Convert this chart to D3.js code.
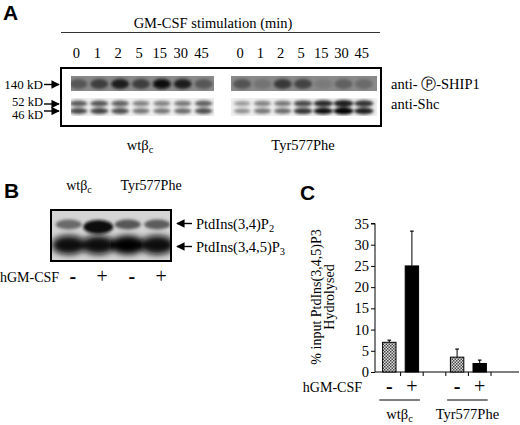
<!DOCTYPE html>
<html>
<head>
<meta charset="utf-8">
<script src="https://cdn.jsdelivr.net/npm/d3@7"></script>
<style>
body { margin: 0; background: #fff; }
svg { display: block; }
svg text { font-family: "Liberation Serif", "Times New Roman", serif; }
svg text.panel { font-family: "Liberation Sans", Arial, sans-serif; font-weight: bold; font-size: 21px; }
</style>
</head>
<body>
<div id="fig"></div>
<script>
// ---- data ----
const timePoints = ["0", "1", "2", "5", "15", "30", "45"];
const cellLines = [{ main: "wtβ", sub: "c" }, { main: "Tyr577Phe", sub: "" }];
// band darkness (0 = white, 1 = black)
const ship1Wt = [0.66, 0.76, 0.88, 0.76, 0.97, 0.88, 0.66];
const ship1Tyr = [0.68, 0.55, 0.78, 0.74, 0.52, 0.62, 0.58];
const shcWt = [0.72, 0.75, 0.7, 0.55, 0.55, 0.6, 0.7];
const shcTyr = [0.45, 0.55, 0.6, 0.8, 0.95, 1.0, 0.9];
const mwLabels = ["140 kD", "52 kD", "46 kD"];
const blotLabels = ["anti- \u24C5-SHIP1", "anti-Shc"];

const lipidLanes = ["wt-", "wt+", "tyr-", "tyr+"];
const gmcsf = ["-", "+", "-", "+"];
const pip2Band = [0.58, 0.94, 0.66, 0.64];
const pip3Band = [0.97, 0.95, 0.98, 0.96];
const lipidLabels = [{ main: "PtdIns(3,4)P", sub: "2" }, { main: "PtdIns(3,4,5)P", sub: "3" }];

const conditions = ["wt-", "wt+", "tyr-", "tyr+"];
const hydrolysed = [7.0, 25.0, 3.5, 2.0];
const hydrolysedErr = [0.5, 8.2, 1.9, 0.8];
const patterned = [true, false, true, false];
const yTicks = [0, 5, 10, 15, 20, 25, 30, 35];

// ---- svg ----
const width = 520, height = 425;
const svg = d3.select("#fig").append("svg")
    .attr("width", width)
    .attr("height", height);

const defs = svg.append("defs");
defs.append("filter").attr("id", "blur2").attr("x", "-50%").attr("y", "-50%").attr("width", "200%").attr("height", "200%")
    .append("feGaussianBlur").attr("stdDeviation", 1.8);
defs.append("filter").attr("id", "blur3").attr("x", "-50%").attr("y", "-50%").attr("width", "200%").attr("height", "200%")
    .append("feGaussianBlur").attr("stdDeviation", 3);
defs.append("marker")
    .attr("id", "ah")
    .attr("viewBox", "0 0 10 10")
    .attr("refX", 9).attr("refY", 5)
    .attr("markerWidth", 6).attr("markerHeight", 6)
    .attr("orient", "auto")
    .append("path").attr("d", "M0,0L10,5L0,10z").attr("fill", "#000");

// checkered fill for unstimulated bars
const pat = defs.append("pattern")
    .attr("id", "checker")
    .attr("width", 3).attr("height", 3)
    .attr("patternUnits", "userSpaceOnUse");
pat.append("rect").attr("width", 3).attr("height", 3).attr("fill", "#e0e0e0");
pat.append("rect").attr("width", 1.5).attr("height", 1.5).attr("fill", "#444");
pat.append("rect").attr("x", 1.5).attr("y", 1.5).attr("width", 1.5).attr("height", 1.5).attr("fill", "#444");

const grey = d3.scaleLinear().domain([0, 1]).range(["#ffffff", "#000000"]);

function subText(sel, lab) {
    sel.append("tspan").text(lab.main);
    if (lab.sub) sel.append("tspan").attr("font-size", "0.72em").attr("dy", "0.3em").text(lab.sub);
}

function arrow(x1, x2, y) {
    svg.append("line")
        .attr("x1", x1).attr("x2", x2).attr("y1", y).attr("y2", y)
        .attr("stroke", "#000").attr("stroke-width", 1.4)
        .attr("marker-end", "url(#ah)");
}

// ================= Panel A =================
svg.append("text").attr("class", "panel").attr("x", 3).attr("y", 20).text("A");

svg.append("text")
    .attr("x", 213).attr("y", 28)
    .attr("text-anchor", "middle").attr("font-size", 14.5)
    .text("GM-CSF stimulation (min)");
svg.append("line")
    .attr("x1", 61).attr("x2", 380).attr("y1", 32.5).attr("y2", 32.5)
    .attr("stroke", "#333").attr("stroke-width", 1.2);

const laneWt = d3.scaleBand().domain(timePoints).range([66, 212]);
const laneTyr = d3.scaleBand().domain(timePoints).range([230, 372]);
const groups = [
    { lane: laneWt, ship: ship1Wt, shc: shcWt, strip: [71, 214], label: cellLines[0], lx: 140 },
    { lane: laneTyr, ship: ship1Tyr, shc: shcTyr, strip: [231, 377], label: cellLines[1], lx: 303 }
];

groups.forEach((g, gi) => {
    // lane numbers
    svg.append("g").selectAll("text")
        .data(timePoints)
        .join("text")
        .attr("x", d => g.lane(d) + g.lane.bandwidth() / 2)
        .attr("y", 58)
        .attr("text-anchor", "middle")
        .attr("font-size", 14.5)
        .text(d => d);

    // SHIP1 strip
    const cid = "clipShip" + gi;
    defs.append("clipPath").attr("id", cid)
        .append("rect").attr("x", g.strip[0]).attr("y", 76).attr("width", g.strip[1] - g.strip[0]).attr("height", 15);
    const ship = svg.append("g").attr("clip-path", `url(#${cid})`);
    ship.append("rect")
        .attr("x", g.strip[0]).attr("y", 76).attr("width", g.strip[1] - g.strip[0]).attr("height", 15)
        .attr("fill", "#8a8a8a");
    ship.append("g").attr("filter", "url(#blur2)")
        .selectAll("ellipse")
        .data(g.ship)
        .join("ellipse")
        .attr("cx", (d, i) => g.lane(timePoints[i]) + g.lane.bandwidth() / 2 + 2)
        .attr("cy", 84)
        .attr("rx", 9).attr("ry", 5)
        .attr("fill", d => grey(d));

    // Shc strip
    const sid = "clipShc" + gi;
    defs.append("clipPath").attr("id", sid)
        .append("rect").attr("x", g.strip[0]).attr("y", 98).attr("width", g.strip[1] - g.strip[0]).attr("height", 18);
    const shc = svg.append("g").attr("clip-path", `url(#${sid})`);
    shc.append("rect")
        .attr("x", g.strip[0]).attr("y", 98).attr("width", g.strip[1] - g.strip[0]).attr("height", 18)
        .attr("fill", "#efefef");
    const bands = shc.append("g").attr("filter", "url(#blur2)");
    [103.5, 111].forEach((cy, bi) => {
        bands.append("g").selectAll("ellipse")
            .data(g.shc)
            .join("ellipse")
            .attr("cx", (d, i) => g.lane(timePoints[i]) + g.lane.bandwidth() / 2 + 2)
            .attr("cy", cy)
            .attr("rx", d => 7 + d * 3)
            .attr("ry", d => 1.8 + d * 1.6)
            .attr("fill", d => grey(bi === 0 ? d * 0.9 : d));
    });

    // cell line label
    svg.append("text")
        .attr("x", g.lx).attr("y", 150)
        .attr("text-anchor", "middle").attr("font-size", 14.5)
        .call(subText, g.label);
});

svg.append("rect")
    .attr("x", 61).attr("y", 68).attr("width", 320).attr("height", 58)
    .attr("fill", "none").attr("stroke", "#000").attr("stroke-width", 2);

const mwY = [84.5, 104, 111];
const mwBase = [89, 105.5, 118.5];
svg.append("g").selectAll("text")
    .data(mwLabels)
    .join("text")
    .attr("x", 43)
    .attr("y", (d, i) => mwBase[i])
    .attr("text-anchor", "end")
    .attr("font-size", (d, i) => i === 0 ? 13 : 12.5)
    .text(d => d);
mwY.forEach(y => arrow(44, 59, y));

svg.append("g").selectAll("text")
    .data(blotLabels)
    .join("text")
    .attr("x", 391)
    .attr("y", (d, i) => i === 0 ? 89 : 109)
    .attr("font-size", 14.5)
    .text(d => d);

// ================= Panel B =================
svg.append("text").attr("class", "panel").attr("x", 4).attr("y", 198).text("B");

const laneB = d3.scaleBand().domain(lipidLanes).range([54, 172]);
const bx = d => laneB(d) + laneB.bandwidth() / 2;

svg.append("text").attr("x", 79).attr("y", 190).attr("text-anchor", "middle").attr("font-size", 14)
    .call(subText, cellLines[0]);
svg.append("text").attr("x", 151).attr("y", 190).attr("text-anchor", "middle").attr("font-size", 14)
    .call(subText, cellLines[1]);

defs.append("clipPath").attr("id", "clipB")
    .append("rect").attr("x", 51).attr("y", 210).attr("width", 120).attr("height", 51);
const blotB = svg.append("g").attr("clip-path", "url(#clipB)");
blotB.append("rect").attr("x", 51).attr("y", 210).attr("width", 120).attr("height", 51).attr("fill", "#d4d4d4");
blotB.append("g").attr("filter", "url(#blur3)")
    .selectAll("ellipse")
    .data(pip3Band)
    .join("ellipse")
    .attr("cx", (d, i) => bx(lipidLanes[i]))
    .attr("cy", 245)
    .attr("rx", 17).attr("ry", 9.5)
    .attr("fill", d => grey(d));
blotB.append("g").attr("filter", "url(#blur2)")
    .selectAll("ellipse")
    .data(pip2Band)
    .join("ellipse")
    .attr("cx", (d, i) => bx(lipidLanes[i]))
    .attr("cy", d => d > 0.8 ? 227 : 224.5)
    .attr("rx", d => d > 0.8 ? 15 : 13)
    .attr("ry", d => d > 0.8 ? 7 : 5)
    .attr("fill", d => grey(d));
svg.append("rect")
    .attr("x", 51).attr("y", 210).attr("width", 120).attr("height", 51)
    .attr("fill", "none").attr("stroke", "#000").attr("stroke-width", 2);

[223.5, 246.5].forEach((y, i) => {
    arrow(192, 177, y);
    svg.append("text").attr("x", 196).attr("y", y + 5).attr("font-size", 14.5)
        .call(subText, lipidLabels[i]);
});

svg.append("text").attr("x", 0).attr("y", 282).attr("font-size", 14).text("hGM-CSF");
svg.append("g").selectAll("text")
    .data(gmcsf)
    .join("text")
    .attr("x", (d, i) => bx(lipidLanes[i]) + 4)
    .attr("y", 283)
    .attr("text-anchor", "middle")
    .attr("font-size", 20)
    .attr("font-weight", d => d === "-" ? "bold" : null)
    .text(d => d);

// ================= Panel C =================
svg.append("text").attr("class", "panel").attr("x", 300).attr("y", 200).text("C");

const y = d3.scaleLinear().domain([0, 35]).range([372, 223.5]);
const x = d3.scaleBand().domain(["wt-", "wt+", "gap", "tyr-", "tyr+"]).range([378, 491]);
const cx = d => x(d) + x.bandwidth() / 2;
const barW = 13.4;

const yAxis = svg.append("g")
    .attr("transform", "translate(375,0)")
    .call(d3.axisLeft(y).tickValues(yTicks).tickSize(4).tickPadding(2));
yAxis.attr("font-family", null).attr("font-size", 14.5);
yAxis.select(".domain").attr("d", `M-4,${y(35)}H0V${y(0)}`);

// x axis line and ticks at band boundaries
svg.append("line")
    .attr("x1", 375).attr("x2", 519).attr("y1", y(0)).attr("y2", y(0))
    .attr("stroke", "#000");
const bounds = x.domain().slice(1).map(d => x(d)).concat([x.range()[1]]);
svg.append("g").selectAll("line")
    .data(bounds)
    .join("line")
    .attr("x1", d => d).attr("x2", d => d)
    .attr("y1", y(0)).attr("y2", y(0) + 4)
    .attr("stroke", "#000");

// error bars (upper only)
const err = svg.append("g");
conditions.forEach((c, i) => {
    const top = y(hydrolysed[i] + hydrolysedErr[i]);
    err.append("line")
        .attr("x1", cx(c)).attr("x2", cx(c))
        .attr("y1", y(hydrolysed[i])).attr("y2", top)
        .attr("stroke", "#000").attr("stroke-width", 1);
    err.append("line")
        .attr("x1", cx(c) - 1.8).attr("x2", cx(c) + 1.8)
        .attr("y1", top).attr("y2", top)
        .attr("stroke", "#000").attr("stroke-width", 1.2);
});

svg.append("g").selectAll("rect")
    .data(hydrolysed)
    .join("rect")
    .attr("x", (d, i) => cx(conditions[i]) - barW / 2)
    .attr("y", d => y(d))
    .attr("width", barW)
    .attr("height", d => y(0) - y(d))
    .attr("fill", (d, i) => patterned[i] ? "url(#checker)" : "#000")
    .attr("stroke", "#000")
    .attr("stroke-width", 1);

// y label
const yl = svg.append("text")
    .attr("transform", "translate(321,297) rotate(-90)")
    .attr("text-anchor", "middle")
    .attr("font-size", 14);
yl.append("tspan").attr("x", 0).attr("y", 0).text("% input PtdIns(3,4,5)P3");
yl.append("tspan").attr("x", 0).attr("y", 12.5).text("Hydrolysed");

// stimulation row
svg.append("text").attr("x", 362).attr("y", 392).attr("text-anchor", "end").attr("font-size", 14).text("hGM-CSF");
svg.append("g").selectAll("text")
    .data(gmcsf)
    .join("text")
    .attr("x", (d, i) => cx(conditions[i]))
    .attr("y", 393)
    .attr("text-anchor", "middle")
    .attr("font-size", 20)
    .attr("font-weight", d => d === "-" ? "bold" : null)
    .text(d => d);

const groupSpans = [["wt-", "wt+"], ["tyr-", "tyr+"]];
groupSpans.forEach((s, i) => {
    const x1 = cx(s[0]) - 10, x2 = cx(s[1]) + 8;
    svg.append("line")
        .attr("x1", x1).attr("x2", x2).attr("y1", 400).attr("y2", 400)
        .attr("stroke", "#000").attr("stroke-width", 1);
    svg.append("text")
        .attr("x", (x1 + x2) / 2).attr("y", 419)
        .attr("text-anchor", "middle").attr("font-size", 14.5)
        .call(subText, cellLines[i]);
});
</script>
</body>
</html>
